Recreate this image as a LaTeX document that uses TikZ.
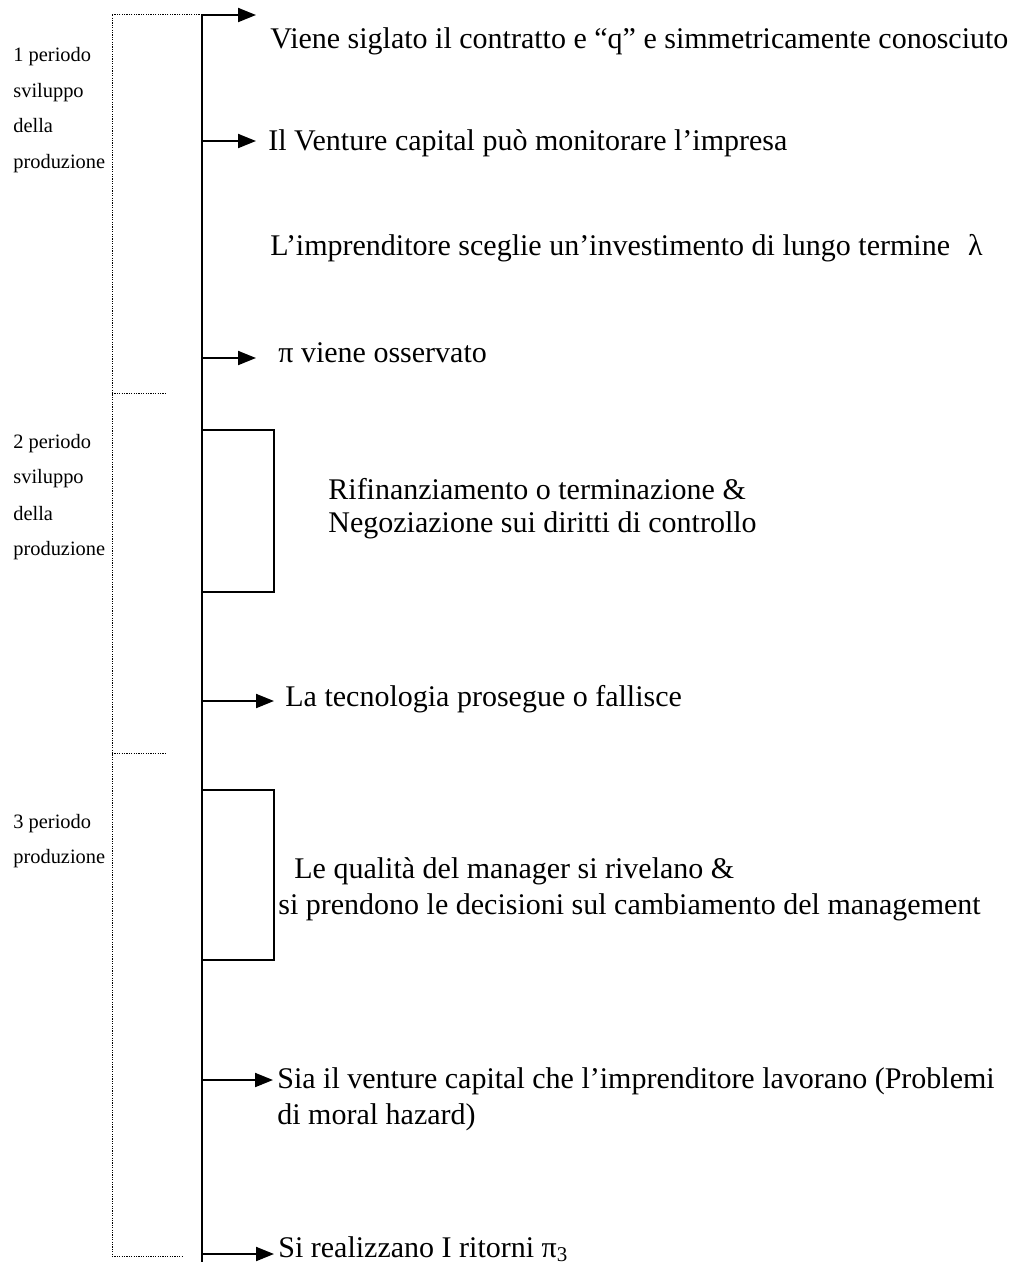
\documentclass[tikz,border=0pt]{standalone}
\usepackage{fontspec}
\setmainfont{Liberation Serif}
\usetikzlibrary{arrows.meta}
\tikzset{
  evento/.style={anchor=base west, inner sep=0pt, font=\fontsize{15}{17.5}\selectfont},
  periodo/.style={anchor=base west, inner sep=0pt, font=\fontsize{10.2}{12}\selectfont},
  freccia/.style={line width=1pt, -{Triangle[length=9pt,width=7pt]}},
  bordo/.style={line width=0.5pt, dash pattern=on 0.6pt off 0.6pt},
}
\begin{document}
\begin{tikzpicture}[x=0.5pt, y=-0.5pt]
  \useasboundingbox (0,0) rectangle (1013,1266);

  % Time line
  \coordinate (inizio) at (202,14);
  \coordinate (fine) at (202,1262);
  \draw[line width=1pt] (inizio) -- (fine);

  % Period bracket (dotted)
  \draw[bordo] (inizio) -- (112,14) -- (112,1256) -- (183,1256);
  \draw[bordo] (112,393) -- (167,393);
  \draw[bordo] (112,753) -- (167,753);

  % Period labels
  \foreach \testo/\y in {1 periodo/61, sviluppo/97, della/132, produzione/168,
                         2 periodo/448, sviluppo/483, della/520, produzione/555,
                         3 periodo/828, produzione/863} {
    \node[periodo] at (13,\y) {\testo};
  }

  % Boxes for the negotiation stages
  \draw[line width=1pt] (202,430) rectangle (274,592);
  \draw[line width=1pt] (202,790) rectangle (274,960);

  % Arrows from the time line
  \foreach \y/\punta [count=\i] in {15/256, 141/256, 358/256, 701/274, 1080/273, 1254/274} {
    \coordinate (a\i) at (202,\y);
    \coordinate (p\i) at (\punta,\y);
    \draw[freccia] (a\i) -- (p\i);
  }

  % Events
  \node[evento] (e1) at (270,48) {Viene siglato il contratto e “q” e simmetricamente conosciuto};
  \node[evento] (e2) at (268,150) {Il Venture capital può monitorare l’impresa};
  \node[evento] (e3) at (270,255) {L’imprenditore sceglie un’investimento di lungo termine\hspace{0.6em}λ};
  \node[evento] (e4) at (278,362) {π viene osservato};
  \node[evento] (e5a) at (328,499) {Rifinanziamento o terminazione \&};
  \node[evento] (e5b) at (328,532) {Negoziazione sui diritti di controllo};
  \node[evento] (e6) at (285,706) {La tecnologia prosegue o fallisce};
  \node[evento] (e7a) at (294,878) {Le qualità del manager si rivelano \&};
  \node[evento] (e7b) at (278,914) {si prendono le decisioni sul cambiamento del management};
  \node[evento] (e8a) at (277,1088) {Sia il venture capital che l’imprenditore lavorano (Problemi};
  \node[evento] (e8b) at (277,1124) {di moral hazard)};
  \node[evento] (e9) at (278,1257) {Si realizzano I ritorni π\textsubscript{3}};

\end{tikzpicture}
\end{document}
